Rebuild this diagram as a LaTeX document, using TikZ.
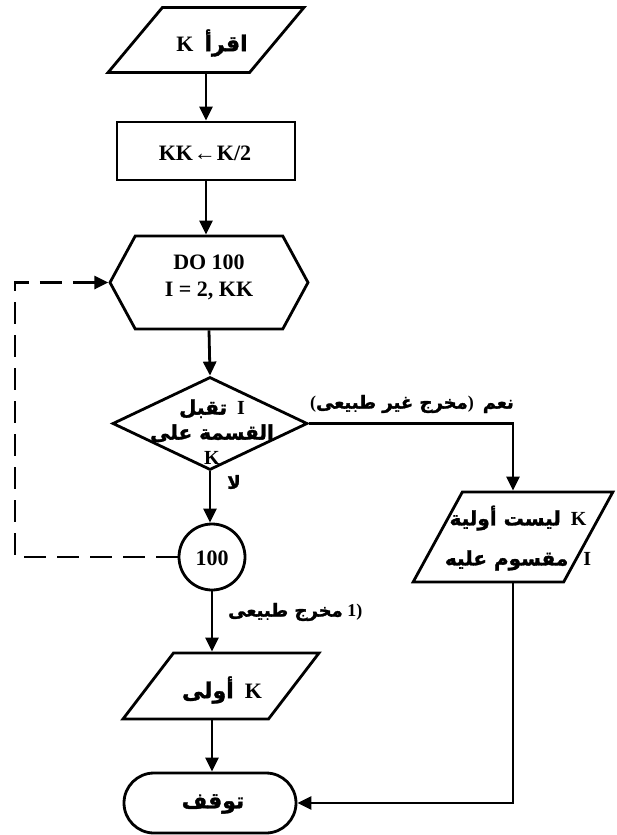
\documentclass[tikz,border=0pt]{standalone}
\usepackage{fontspec}
\setmainfont{Liberation Serif}
\newfontfamily\ar[Script=Arabic,FakeBold=1.5]{DejaVu Sans}
\TeXXeTstate=1
\usetikzlibrary{shapes.geometric,shapes.misc,shapes.symbols,arrows.meta}
\begin{document}
\begin{tikzpicture}[x=1pt,y=-1pt,
  shp/.style={draw, line width=2.8pt, inner sep=0pt},
  para/.style={shp, trapezium, trapezium stretches=true, inner sep=4pt},
  arr/.style={line width=2.8pt, -{Triangle[length=14pt,width=13pt]}},
  dsh/.style={line width=2.8pt, dash pattern=on 22pt off 11pt, -{Triangle[length=14pt,width=13pt]}},
  txt/.style={font=\bfseries\fontsize{22}{27}\selectfont, align=center, inner sep=0pt},
  lab/.style={font=\bfseries\fontsize{18}{22}\selectfont, inner sep=0pt}
]
\fill[white] (0,0) rectangle (617,835);
\useasboundingbox (0,0) rectangle (617,835);

% shapes
\node[para, trapezium left angle=76, trapezium right angle=104,
      minimum width=196pt, minimum height=65pt] (read) at (206,40) {\strut};
\node[shp, rectangle, minimum width=178pt, minimum height=58pt] (box) at (206,151) {};
\node[shp, signal, signal to=west and east, signal pointer angle=123,
      minimum width=198pt, minimum height=93pt] (hex) at (209,282.5) {};
\node[shp, diamond, minimum width=195pt, minimum height=93pt] (dia) at (210,423.5) {};
\node[shp, circle, minimum size=66pt] (circ) at (212,557) {};
\node[para, trapezium left angle=79, trapezium right angle=101,
      minimum width=200pt, minimum height=90pt] (p2) at (513,537) {\strut};
\node[para, trapezium left angle=78, trapezium right angle=102,
      minimum width=196pt, minimum height=66pt] (p3) at (221,686) {\strut};
\node[shp, rounded rectangle, minimum width=172pt, minimum height=60pt] (term) at (210,803) {};

% texts
\node[txt] (tread) at (212,43) {\beginR{\ar اقرأ}\ \ K\endR};
\node[txt] (tbox) at (205,153) {KK\kern1pt←\kern1pt K/2};
\node[txt] (thex) at (209,277) {DO 100\\ I = 2, KK};
\node[txt] (tcirc) at (212,558) {100};
\node[txt, font=\bfseries\fontsize{20}{25}\selectfont] (tdia) at (212,432) {\beginR I\ \ {\ar تقبل}\endR\\ \beginR{\ar القسمة على}\endR\\ K};
\node[txt, font=\bfseries\fontsize{20}{40}\selectfont] (tp2) at (518,538) {\beginR K\ \ {\ar ليست أولية}\endR\\ \beginR I\ \ \ {\ar مقسوم عليه}\endR};
\node[txt] (tp3) at (222,690) {\beginR K\ \ {\ar أولى}\endR};
\node[txt] (tterm) at (213,804) {\beginR{\ar توقف}\endR};

% connectors
\draw[arr] (read.south) -- (box.north);
\draw[arr] (box.south) -- (box.south |- hex.north);
\draw[arr] (hex.south) -- (dia.north);
\draw[arr] (dia.south) -- (dia.south |- circ.north);
\draw[arr] (circ.south) -- (circ.south |- p3.north);
\draw[arr] (circ.south |- p3.south) -- (circ.south |- term.north);
\draw[arr] (dia.east) -| (p2.north);
\draw[arr] (p2.south) |- (term.east);
\coordinate (lp) at (15,420);
\draw[dsh] (circ.west) -- (lp |- circ.west) |- (hex.west);

% labels
\node[lab] (lno) at (234,482) {\beginR{\ar لا}\endR};
\node[lab, anchor=east] (lyes) at (514,404) {(\beginR{\ar مخرج غير طبيعى}\endR)\ \ \beginR{\ar نعم}\endR};
\node[lab, anchor=west] (lnat) at (228,612) {\beginR{\ar مخرج طبيعى}\endR\ 1)};
\end{tikzpicture}
\end{document}
